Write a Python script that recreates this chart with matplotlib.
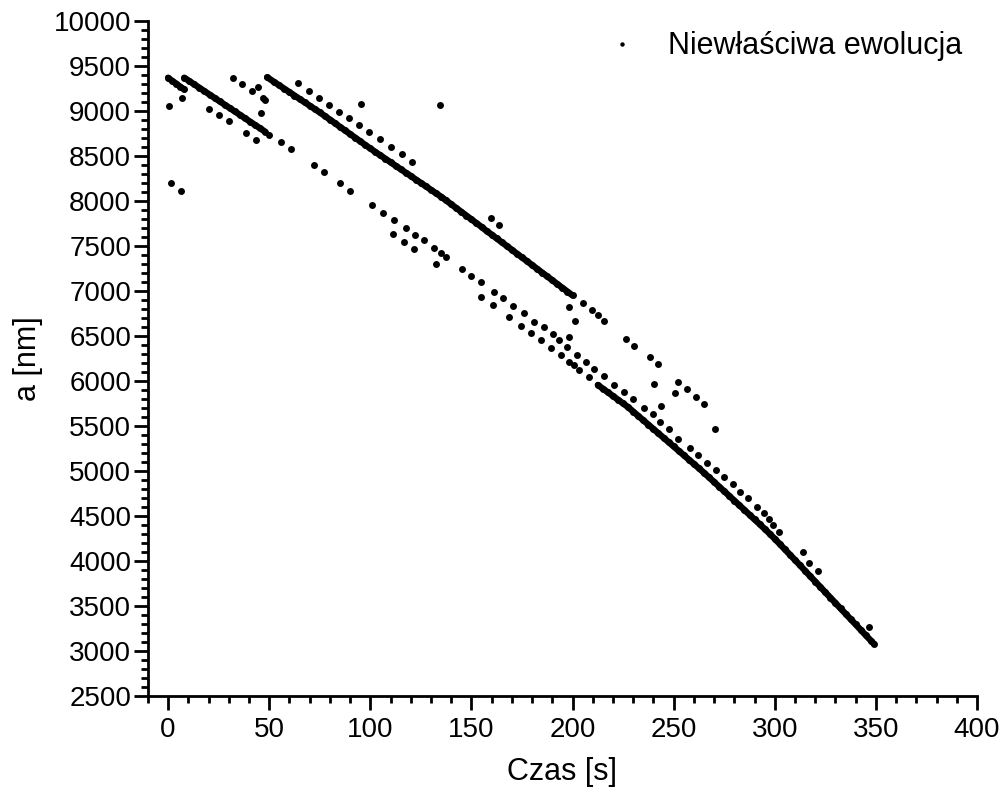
import matplotlib
matplotlib.use("Agg")
import matplotlib.pyplot as plt
from matplotlib.ticker import MultipleLocator

plt.rcParams['font.family'] = ['Liberation Sans', 'DejaVu Sans']

# ---- data (time [s], a [nm]) ----
# dense segments
track_a_t = [0, 2, 4, 6, 8]
track_a_a = [9370, 9335, 9305, 9270, 9240]

track_b_t = [8, 10.5, 13, 15.5, 18, 20.5, 23, 25.5, 28, 30.5, 33, 35.5, 38, 40.5, 43, 45.5, 48]
track_b_a = [9370, 9333, 9295, 9258, 9220, 9183, 9145, 9108, 9070, 9033, 8995, 8958, 8920, 8883,
             8845, 8808, 8770]

main_t = [49, 52.5, 55, 57.5, 60, 62.5, 65, 67.5, 70, 72.5, 75, 77.5, 80, 82.5, 85, 87.5, 90,
          92.5, 95, 97.5, 100, 102.5, 105, 107.5, 110, 112.5, 115, 117.5, 120, 122.5, 125, 127.5,
          130, 132.5, 135, 137.5, 140, 142.5, 145, 147.5, 150, 152.5, 155, 157.5, 160, 162.5, 165,
          167.5, 170, 172.5, 175, 177.5, 180, 182.5, 185, 187.5, 190, 192.5, 195, 197.5, 200]
main_a = [9375, 9322, 9285, 9247, 9210, 9172, 9135, 9097, 9060, 9022, 8985, 8945, 8905, 8865,
          8824, 8784, 8744, 8704, 8664, 8623, 8584, 8545, 8507, 8469, 8431, 8392, 8354, 8316,
          8278, 8239, 8201, 8163, 8124, 8086, 8048, 8006, 7964, 7922, 7880, 7838, 7796, 7754,
          7712, 7667, 7627, 7584, 7542, 7500, 7458, 7415, 7373, 7331, 7289, 7246, 7204, 7162,
          7120, 7077, 7035, 6993, 6951]

late_t = [212.5, 215, 217.5, 220, 222.5, 225, 227.5, 230, 232.5, 235, 237.5, 240, 242.5, 245,
          247.5, 250, 252.5, 255, 257.5, 260, 262.5, 265, 267.5, 270, 272.5, 275, 277.5, 280,
          282.5, 285, 287.5, 290, 292.5, 295, 297.5, 300, 302.5, 305, 307.5, 310, 312.5, 315,
          317.5, 320, 322.5, 325, 327.5, 330, 332.5, 335, 337.5, 340, 342.5, 345, 347.5, 349]
late_a = [5956, 5915, 5874, 5833, 5792, 5751, 5709, 5660, 5612, 5563, 5515, 5466, 5418, 5370,
          5321, 5273, 5224, 5176, 5127, 5079, 5030, 4980, 4929, 4878, 4826, 4775, 4723, 4671,
          4619, 4567, 4514, 4462, 4410, 4357, 4303, 4246, 4188, 4129, 4070, 4011, 3952, 3891,
          3831, 3772, 3712, 3652, 3593, 3533, 3473, 3414, 3354, 3295, 3235, 3175, 3116, 3080]

# sparse tracks
lower1_t = [49.9, 55.9, 60.8, 72.2, 77.1, 85.0, 90.0, 100.9, 106.3, 111.7, 117.7, 122.1, 126.6,
            131.5, 135.0, 137.4, 145.4, 149.8, 154.8, 161.3, 165.5, 170.4, 176.2, 181.1, 186.1,
            190.2, 193.5, 197.3, 202.2, 206.7, 210.8, 215.7, 220.7, 225.3, 229.8, 235.2, 239.6,
            243.4, 247.9, 252.3, 258.2, 262.2, 266.5, 271.0, 275.1, 279.2, 282.8, 286.8, 291.2,
            294.7, 297.2, 299.1, 302.1]
lower1_a = [8733, 8656, 8578, 8400, 8322, 8200, 8111, 7956, 7867, 7789, 7700, 7622, 7567,
            7478, 7422, 7378, 7244, 7167, 7100, 6993, 6919, 6833, 6752, 6659, 6604,
            6522, 6456, 6381, 6289, 6208, 6133, 6056, 5956, 5881, 5796, 5696, 5633,
            5548, 5463, 5352, 5252, 5178, 5093, 5011, 4930, 4856, 4767, 4700, 4600,
            4533, 4467, 4400, 4322]

lower2_t = [111.2, 116.7, 121.6, 132.5, 154.8, 160.5, 168.8, 174.5, 179.5, 184.4, 189.4, 194.3,
            198.4, 200.9, 203.4, 208.3]
lower2_a = [7633, 7544, 7467, 7300, 6937, 6844, 6715, 6615, 6530, 6456, 6363, 6289,
            6215, 6178, 6122, 6041]

below_b_t = [20.4, 25.4, 30.0, 38.6, 43.5]
below_b_a = [9022, 8956, 8889, 8752, 8678]

upper_t = [32.0, 36.6, 41.5, 44.3, 47.1, 48.0, 46.0,
           64.1, 69.6, 74.8, 79.8, 84.7, 89.6, 94.6, 99.5, 105.0, 110.3, 115.7, 120.5,
           159.7, 163.8,
           205.2, 209.6, 212.6, 215.6, 226.4, 230.4, 238.5, 242.4, 252.3, 256.6, 261.1, 265.2,
           270.5]
upper_a = [9370, 9296, 9222, 9270, 9141, 9122, 8974,
           9307, 9226, 9144, 9067, 8993, 8919, 8844, 8763, 8685, 8600, 8519, 8437,
           7807, 7733,
           6867, 6789, 6733, 6667, 6467, 6389, 6270, 6189, 5993, 5911, 5826, 5744,
           5467]

stray_t = [0.6, 6.9, 1.5, 6.4, 95.4, 134.5, 198.0, 201.2, 198.0, 240.1, 250.7, 243.8,
           313.8, 317.1, 321.5, 346.8]
stray_a = [9059, 9141, 8197, 8111, 9078, 9067, 6819, 6663, 6486, 5967, 5863, 5722,
           4097, 3974, 3893, 3263]

legend_label = "Niewłaściwa ewolucja"

# ---- figure ----
fig = plt.figure(figsize=(9.99, 7.96), dpi=100)
ax = fig.add_axes([0.148, 0.1256, 0.830, 0.848])

ms = 5.0
dense = [(track_a_t, track_a_a), (track_b_t, track_b_a), (main_t, main_a), (late_t, late_a)]
for t, a in dense:
    ax.plot(t, a, color='black', lw=4.6, solid_capstyle='round', zorder=2)
    ax.plot(t, a, ls='none', marker='o', ms=ms, color='black', mew=0, zorder=3)

sparse = [(lower1_t, lower1_a), (lower2_t, lower2_a), (below_b_t, below_b_a),
          (upper_t, upper_a), (stray_t, stray_a)]
for t, a in sparse:
    ax.plot(t, a, ls='none', marker='o', ms=ms, color='black', mew=0, zorder=3)

# legend handle
h, = ax.plot([], [], ls='none', marker='o', ms=3.2, color='black', mew=0, label=legend_label)
leg = ax.legend(handles=[h], loc='upper right', bbox_to_anchor=(0.997, 1.003), frameon=False,
                fontsize=22, handlelength=1.0, handletextpad=1.0, borderaxespad=0)

ax.set_xlim(-10, 400)
ax.set_ylim(2500, 10000)
ax.xaxis.set_major_locator(MultipleLocator(50))
ax.xaxis.set_minor_locator(MultipleLocator(10))
ax.yaxis.set_major_locator(MultipleLocator(500))
ax.yaxis.set_minor_locator(MultipleLocator(100))

for s in ['top', 'right']:
    ax.spines[s].set_visible(False)
for s in ['left', 'bottom']:
    ax.spines[s].set_linewidth(2)

ax.tick_params(which='major', direction='out', length=10, width=2, labelsize=20, pad=5)
ax.tick_params(which='minor', direction='out', length=5, width=2)
ax.tick_params(axis='y', which='major', pad=2)

ax.set_xlabel('Czas [s]', fontsize=22, labelpad=10)
ax.set_ylabel('a [nm]', fontsize=22, labelpad=8)

fig.savefig('out.png', dpi=100)
